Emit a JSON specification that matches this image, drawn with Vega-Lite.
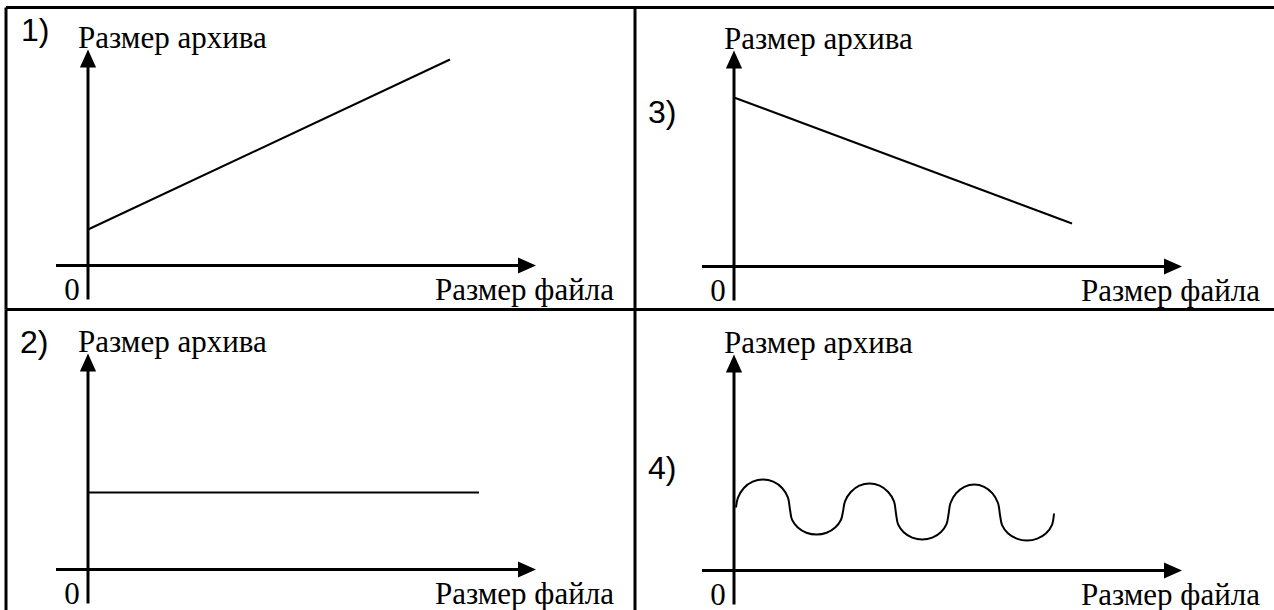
{
  "$schema": "https://vega.github.io/schema/vega-lite/v6.json",
  "padding": {"left": 4, "top": 5.5, "right": 0, "bottom": 0},
  "background": "white",
  "config": {"view": {"stroke": null}, "axis": {"disable": true}},
  "spacing": 0,
  "bounds": "flush",
  "columns": 2,
  "datasets": {
    "axes": [
      {"size": -32, "size2": 439, "archive": 0, "archive2": 0},
      {"size": 0, "size2": 0, "archive": -34, "archive2": 207}
    ],
    "headUp": [{"size": 0, "archive": 207}],
    "headRight": [{"size": 439, "archive": 0}],
    "labels": [
      {"role": "y", "text": "Размер архива", "size": -10, "archive": 218},
      {"role": "x", "text": "Размер файла", "size": 526, "archive": -34},
      {"role": "o", "text": "0", "size": -16, "archive": -34}
    ],
    "numbers": [
      {"panel": 1, "text": "1)", "size": -67, "archive": 225},
      {"panel": 2, "text": "2)", "size": -68, "archive": 217},
      {"panel": 3, "text": "3)", "size": -86, "archive": 144},
      {"panel": 4, "text": "4)", "size": -86, "archive": 92}
    ],
    "curves": [
      {"panel": 1, "i": 0, "size": 0, "archive": 36},
      {"panel": 1, "i": 1, "size": 362, "archive": 206},
      {"panel": 2, "i": 0, "size": 0, "archive": 77},
      {"panel": 2, "i": 1, "size": 391, "archive": 77},
      {"panel": 3, "i": 0, "size": 0, "archive": 169},
      {"panel": 3, "i": 1, "size": 338, "archive": 43},
      {"panel": 4, "i": 0, "size": 2, "archive": 63},
      {"panel": 4, "i": 1, "size": 4.1, "archive": 73.1},
      {"panel": 4, "i": 2, "size": 9.9, "archive": 82.5},
      {"panel": 4, "i": 3, "size": 18.7, "archive": 88.8},
      {"panel": 4, "i": 4, "size": 29, "archive": 91},
      {"panel": 4, "i": 5, "size": 39.3, "archive": 88.8},
      {"panel": 4, "i": 6, "size": 48.1, "archive": 82.5},
      {"panel": 4, "i": 7, "size": 53.9, "archive": 73.1},
      {"panel": 4, "i": 8, "size": 56, "archive": 61},
      {"panel": 4, "i": 9, "size": 58, "archive": 50.8},
      {"panel": 4, "i": 10, "size": 63.8, "archive": 43},
      {"panel": 4, "i": 11, "size": 72.4, "archive": 37.8},
      {"panel": 4, "i": 12, "size": 82.5, "archive": 36},
      {"panel": 4, "i": 13, "size": 92.6, "archive": 37.8},
      {"panel": 4, "i": 14, "size": 101.2, "archive": 43},
      {"panel": 4, "i": 15, "size": 107, "archive": 50.8},
      {"panel": 4, "i": 16, "size": 109, "archive": 59},
      {"panel": 4, "i": 17, "size": 111, "archive": 69.1},
      {"panel": 4, "i": 18, "size": 116.8, "archive": 78.5},
      {"panel": 4, "i": 19, "size": 125.4, "archive": 84.8},
      {"panel": 4, "i": 20, "size": 135.5, "archive": 87},
      {"panel": 4, "i": 21, "size": 145.6, "archive": 84.8},
      {"panel": 4, "i": 22, "size": 154.2, "archive": 78.5},
      {"panel": 4, "i": 23, "size": 160, "archive": 69.1},
      {"panel": 4, "i": 24, "size": 162, "archive": 57},
      {"panel": 4, "i": 25, "size": 164, "archive": 46.4},
      {"panel": 4, "i": 26, "size": 169.7, "archive": 38.3},
      {"panel": 4, "i": 27, "size": 178.2, "archive": 32.9},
      {"panel": 4, "i": 28, "size": 188.3, "archive": 31},
      {"panel": 4, "i": 29, "size": 198.3, "archive": 32.9},
      {"panel": 4, "i": 30, "size": 206.8, "archive": 38.3},
      {"panel": 4, "i": 31, "size": 212.5, "archive": 46.4},
      {"panel": 4, "i": 32, "size": 214.5, "archive": 56},
      {"panel": 4, "i": 33, "size": 216.5, "archive": 67.5},
      {"panel": 4, "i": 34, "size": 222, "archive": 77.2},
      {"panel": 4, "i": 35, "size": 230.4, "archive": 83.7},
      {"panel": 4, "i": 36, "size": 240.3, "archive": 86},
      {"panel": 4, "i": 37, "size": 250.1, "archive": 83.7},
      {"panel": 4, "i": 38, "size": 258.5, "archive": 77.2},
      {"panel": 4, "i": 39, "size": 264, "archive": 67.5},
      {"panel": 4, "i": 40, "size": 266, "archive": 55.5},
      {"panel": 4, "i": 41, "size": 268.1, "archive": 45.4},
      {"panel": 4, "i": 42, "size": 273.9, "archive": 37.3},
      {"panel": 4, "i": 43, "size": 282.7, "archive": 31.9},
      {"panel": 4, "i": 44, "size": 293, "archive": 30},
      {"panel": 4, "i": 45, "size": 303.3, "archive": 31.9},
      {"panel": 4, "i": 46, "size": 312.1, "archive": 37.3},
      {"panel": 4, "i": 47, "size": 317.9, "archive": 45.4},
      {"panel": 4, "i": 48, "size": 320, "archive": 57}
    ]
  },
  "concat": [
    {
      "width": 629, "height": 302,
      "layer": [
        {"data": {"name": "axes"}, "mark": {"type": "rule", "strokeWidth": 3, "color": "black"},
         "encoding": {
           "x": {"field": "size", "type": "quantitative", "scale": {"domain": [-82, 547], "nice": false, "zero": false}, "axis": null},
           "x2": {"field": "size2"},
           "y": {"field": "archive", "type": "quantitative", "scale": {"domain": [-44, 258], "nice": false, "zero": false}, "axis": null},
           "y2": {"field": "archive2"}}},
        {"data": {"name": "headUp"}, "mark": {"type": "point", "shape": "M0,-1L-0.9,1L0.9,1Z", "size": 324, "filled": true, "color": "black", "opacity": 1},
         "encoding": {"x": {"field": "size", "type": "quantitative", "axis": null}, "y": {"field": "archive", "type": "quantitative", "axis": null}}},
        {"data": {"name": "headRight"}, "mark": {"type": "point", "shape": "M1,0L-1,-0.9L-1,0.9Z", "size": 324, "filled": true, "color": "black", "opacity": 1},
         "encoding": {"x": {"field": "size", "type": "quantitative", "axis": null}, "y": {"field": "archive", "type": "quantitative", "axis": null}}},
        {"data": {"name": "curves"}, "transform": [{"filter": "datum.panel == 1"}],
         "mark": {"type": "line", "color": "black", "strokeWidth": 2, "interpolate": "catmull-rom"},
         "encoding": {"x": {"field": "size", "type": "quantitative", "axis": null}, "y": {"field": "archive", "type": "quantitative", "axis": null}, "order": {"field": "i", "type": "quantitative"}}},
        {"data": {"name": "labels"}, "transform": [{"filter": "datum.role == 'y'"}],
         "mark": {"type": "text", "font": "Liberation Serif, Times New Roman, DejaVu Serif, serif", "fontSize": 31, "align": "left", "baseline": "alphabetic", "color": "black"},
         "encoding": {"x": {"field": "size", "type": "quantitative", "axis": null}, "y": {"field": "archive", "type": "quantitative", "axis": null}, "text": {"field": "text"}}},
        {"data": {"name": "labels"}, "transform": [{"filter": "datum.role == 'x'"}],
         "mark": {"type": "text", "font": "Liberation Serif, Times New Roman, DejaVu Serif, serif", "fontSize": 31, "align": "right", "baseline": "alphabetic", "color": "black"},
         "encoding": {"x": {"field": "size", "type": "quantitative", "axis": null}, "y": {"field": "archive", "type": "quantitative", "axis": null}, "text": {"field": "text"}}},
        {"data": {"name": "labels"}, "transform": [{"filter": "datum.role == 'o'"}],
         "mark": {"type": "text", "font": "Liberation Serif, Times New Roman, DejaVu Serif, serif", "fontSize": 31, "align": "center", "baseline": "alphabetic", "color": "black"},
         "encoding": {"x": {"field": "size", "type": "quantitative", "axis": null}, "y": {"field": "archive", "type": "quantitative", "axis": null}, "text": {"field": "text"}}},
        {"data": {"name": "numbers"}, "transform": [{"filter": "datum.panel == 1"}],
         "mark": {"type": "text", "font": "Liberation Sans, Arial, sans-serif", "fontSize": 32, "align": "left", "baseline": "alphabetic", "color": "black"},
         "encoding": {"x": {"field": "size", "type": "quantitative", "axis": null}, "y": {"field": "archive", "type": "quantitative", "axis": null}, "text": {"field": "text"}}},
        {"data": {"values": [{}]}, "mark": {"type": "rule", "strokeWidth": 3, "color": "black"},
         "encoding": {"x": {"datum": -82, "type": "quantitative", "axis": null}}},
        {"data": {"values": [{}]}, "mark": {"type": "rule", "strokeWidth": 3, "color": "black"},
         "encoding": {"x": {"datum": 547, "type": "quantitative", "axis": null}}},
        {"data": {"values": [{}]}, "mark": {"type": "rule", "strokeWidth": 3, "color": "black"},
         "encoding": {"y": {"datum": 258, "type": "quantitative", "axis": null}}}
      ]
    },
    {
      "width": 639, "height": 302,
      "layer": [
        {"data": {"name": "axes"}, "mark": {"type": "rule", "strokeWidth": 3, "color": "black"},
         "encoding": {
           "x": {"field": "size", "type": "quantitative", "scale": {"domain": [-99, 540], "nice": false, "zero": false}, "axis": null},
           "x2": {"field": "size2"},
           "y": {"field": "archive", "type": "quantitative", "scale": {"domain": [-43, 259], "nice": false, "zero": false}, "axis": null},
           "y2": {"field": "archive2"}}},
        {"data": {"name": "headUp"}, "mark": {"type": "point", "shape": "M0,-1L-0.9,1L0.9,1Z", "size": 324, "filled": true, "color": "black", "opacity": 1},
         "encoding": {"x": {"field": "size", "type": "quantitative", "axis": null}, "y": {"field": "archive", "type": "quantitative", "axis": null}}},
        {"data": {"name": "headRight"}, "mark": {"type": "point", "shape": "M1,0L-1,-0.9L-1,0.9Z", "size": 324, "filled": true, "color": "black", "opacity": 1},
         "encoding": {"x": {"field": "size", "type": "quantitative", "axis": null}, "y": {"field": "archive", "type": "quantitative", "axis": null}}},
        {"data": {"name": "curves"}, "transform": [{"filter": "datum.panel == 3"}],
         "mark": {"type": "line", "color": "black", "strokeWidth": 2, "interpolate": "catmull-rom"},
         "encoding": {"x": {"field": "size", "type": "quantitative", "axis": null}, "y": {"field": "archive", "type": "quantitative", "axis": null}, "order": {"field": "i", "type": "quantitative"}}},
        {"data": {"name": "labels"}, "transform": [{"filter": "datum.role == 'y'"}],
         "mark": {"type": "text", "font": "Liberation Serif, Times New Roman, DejaVu Serif, serif", "fontSize": 31, "align": "left", "baseline": "alphabetic", "color": "black"},
         "encoding": {"x": {"field": "size", "type": "quantitative", "axis": null}, "y": {"field": "archive", "type": "quantitative", "axis": null}, "text": {"field": "text"}}},
        {"data": {"name": "labels"}, "transform": [{"filter": "datum.role == 'x'"}],
         "mark": {"type": "text", "font": "Liberation Serif, Times New Roman, DejaVu Serif, serif", "fontSize": 31, "align": "right", "baseline": "alphabetic", "color": "black"},
         "encoding": {"x": {"field": "size", "type": "quantitative", "axis": null}, "y": {"field": "archive", "type": "quantitative", "axis": null}, "text": {"field": "text"}}},
        {"data": {"name": "labels"}, "transform": [{"filter": "datum.role == 'o'"}],
         "mark": {"type": "text", "font": "Liberation Serif, Times New Roman, DejaVu Serif, serif", "fontSize": 31, "align": "center", "baseline": "alphabetic", "color": "black"},
         "encoding": {"x": {"field": "size", "type": "quantitative", "axis": null}, "y": {"field": "archive", "type": "quantitative", "axis": null}, "text": {"field": "text"}}},
        {"data": {"name": "numbers"}, "transform": [{"filter": "datum.panel == 3"}],
         "mark": {"type": "text", "font": "Liberation Sans, Arial, sans-serif", "fontSize": 32, "align": "left", "baseline": "alphabetic", "color": "black"},
         "encoding": {"x": {"field": "size", "type": "quantitative", "axis": null}, "y": {"field": "archive", "type": "quantitative", "axis": null}, "text": {"field": "text"}}},
        {"data": {"values": [{}]}, "mark": {"type": "rule", "strokeWidth": 3, "color": "black"},
         "encoding": {"y": {"datum": 259, "type": "quantitative", "axis": null}}}
      ]
    },
    {
      "width": 629, "height": 301,
      "layer": [
        {"data": {"name": "axes"}, "mark": {"type": "rule", "strokeWidth": 3, "color": "black"},
         "encoding": {
           "x": {"field": "size", "type": "quantitative", "scale": {"domain": [-82, 547], "nice": false, "zero": false}, "axis": null},
           "x2": {"field": "size2"},
           "y": {"field": "archive", "type": "quantitative", "scale": {"domain": [-41, 260], "nice": false, "zero": false}, "axis": null},
           "y2": {"field": "archive2"}}},
        {"data": {"name": "headUp"}, "mark": {"type": "point", "shape": "M0,-1L-0.9,1L0.9,1Z", "size": 324, "filled": true, "color": "black", "opacity": 1},
         "encoding": {"x": {"field": "size", "type": "quantitative", "axis": null}, "y": {"field": "archive", "type": "quantitative", "axis": null}}},
        {"data": {"name": "headRight"}, "mark": {"type": "point", "shape": "M1,0L-1,-0.9L-1,0.9Z", "size": 324, "filled": true, "color": "black", "opacity": 1},
         "encoding": {"x": {"field": "size", "type": "quantitative", "axis": null}, "y": {"field": "archive", "type": "quantitative", "axis": null}}},
        {"data": {"name": "curves"}, "transform": [{"filter": "datum.panel == 2"}],
         "mark": {"type": "line", "color": "black", "strokeWidth": 2, "interpolate": "catmull-rom"},
         "encoding": {"x": {"field": "size", "type": "quantitative", "axis": null}, "y": {"field": "archive", "type": "quantitative", "axis": null}, "order": {"field": "i", "type": "quantitative"}}},
        {"data": {"name": "labels"}, "transform": [{"filter": "datum.role == 'y'"}],
         "mark": {"type": "text", "font": "Liberation Serif, Times New Roman, DejaVu Serif, serif", "fontSize": 31, "align": "left", "baseline": "alphabetic", "color": "black"},
         "encoding": {"x": {"field": "size", "type": "quantitative", "axis": null}, "y": {"field": "archive", "type": "quantitative", "axis": null}, "text": {"field": "text"}}},
        {"data": {"name": "labels"}, "transform": [{"filter": "datum.role == 'x'"}],
         "mark": {"type": "text", "font": "Liberation Serif, Times New Roman, DejaVu Serif, serif", "fontSize": 31, "align": "right", "baseline": "alphabetic", "color": "black"},
         "encoding": {"x": {"field": "size", "type": "quantitative", "axis": null}, "y": {"field": "archive", "type": "quantitative", "axis": null}, "text": {"field": "text"}}},
        {"data": {"name": "labels"}, "transform": [{"filter": "datum.role == 'o'"}],
         "mark": {"type": "text", "font": "Liberation Serif, Times New Roman, DejaVu Serif, serif", "fontSize": 31, "align": "center", "baseline": "alphabetic", "color": "black"},
         "encoding": {"x": {"field": "size", "type": "quantitative", "axis": null}, "y": {"field": "archive", "type": "quantitative", "axis": null}, "text": {"field": "text"}}},
        {"data": {"name": "numbers"}, "transform": [{"filter": "datum.panel == 2"}],
         "mark": {"type": "text", "font": "Liberation Sans, Arial, sans-serif", "fontSize": 32, "align": "left", "baseline": "alphabetic", "color": "black"},
         "encoding": {"x": {"field": "size", "type": "quantitative", "axis": null}, "y": {"field": "archive", "type": "quantitative", "axis": null}, "text": {"field": "text"}}},
        {"data": {"values": [{}]}, "mark": {"type": "rule", "strokeWidth": 3, "color": "black"},
         "encoding": {"x": {"datum": -82, "type": "quantitative", "axis": null}}},
        {"data": {"values": [{}]}, "mark": {"type": "rule", "strokeWidth": 3, "color": "black"},
         "encoding": {"x": {"datum": 547, "type": "quantitative", "axis": null}}},
        {"data": {"values": [{}]}, "mark": {"type": "rule", "strokeWidth": 3, "color": "black"},
         "encoding": {"y": {"datum": 260, "type": "quantitative", "axis": null}}}
      ]
    },
    {
      "width": 639, "height": 301,
      "layer": [
        {"data": {"name": "axes"}, "mark": {"type": "rule", "strokeWidth": 3, "color": "black"},
         "encoding": {
           "x": {"field": "size", "type": "quantitative", "scale": {"domain": [-99, 540], "nice": false, "zero": false}, "axis": null},
           "x2": {"field": "size2"},
           "y": {"field": "archive", "type": "quantitative", "scale": {"domain": [-40, 261], "nice": false, "zero": false}, "axis": null},
           "y2": {"field": "archive2"}}},
        {"data": {"name": "headUp"}, "mark": {"type": "point", "shape": "M0,-1L-0.9,1L0.9,1Z", "size": 324, "filled": true, "color": "black", "opacity": 1},
         "encoding": {"x": {"field": "size", "type": "quantitative", "axis": null}, "y": {"field": "archive", "type": "quantitative", "axis": null}}},
        {"data": {"name": "headRight"}, "mark": {"type": "point", "shape": "M1,0L-1,-0.9L-1,0.9Z", "size": 324, "filled": true, "color": "black", "opacity": 1},
         "encoding": {"x": {"field": "size", "type": "quantitative", "axis": null}, "y": {"field": "archive", "type": "quantitative", "axis": null}}},
        {"data": {"name": "curves"}, "transform": [{"filter": "datum.panel == 4"}],
         "mark": {"type": "line", "color": "black", "strokeWidth": 2, "interpolate": "catmull-rom"},
         "encoding": {"x": {"field": "size", "type": "quantitative", "axis": null}, "y": {"field": "archive", "type": "quantitative", "axis": null}, "order": {"field": "i", "type": "quantitative"}}},
        {"data": {"name": "labels"}, "transform": [{"filter": "datum.role == 'y'"}],
         "mark": {"type": "text", "font": "Liberation Serif, Times New Roman, DejaVu Serif, serif", "fontSize": 31, "align": "left", "baseline": "alphabetic", "color": "black"},
         "encoding": {"x": {"field": "size", "type": "quantitative", "axis": null}, "y": {"field": "archive", "type": "quantitative", "axis": null}, "text": {"field": "text"}}},
        {"data": {"name": "labels"}, "transform": [{"filter": "datum.role == 'x'"}],
         "mark": {"type": "text", "font": "Liberation Serif, Times New Roman, DejaVu Serif, serif", "fontSize": 31, "align": "right", "baseline": "alphabetic", "color": "black"},
         "encoding": {"x": {"field": "size", "type": "quantitative", "axis": null}, "y": {"field": "archive", "type": "quantitative", "axis": null}, "text": {"field": "text"}}},
        {"data": {"name": "labels"}, "transform": [{"filter": "datum.role == 'o'"}],
         "mark": {"type": "text", "font": "Liberation Serif, Times New Roman, DejaVu Serif, serif", "fontSize": 31, "align": "center", "baseline": "alphabetic", "color": "black"},
         "encoding": {"x": {"field": "size", "type": "quantitative", "axis": null}, "y": {"field": "archive", "type": "quantitative", "axis": null}, "text": {"field": "text"}}},
        {"data": {"name": "numbers"}, "transform": [{"filter": "datum.panel == 4"}],
         "mark": {"type": "text", "font": "Liberation Sans, Arial, sans-serif", "fontSize": 32, "align": "left", "baseline": "alphabetic", "color": "black"},
         "encoding": {"x": {"field": "size", "type": "quantitative", "axis": null}, "y": {"field": "archive", "type": "quantitative", "axis": null}, "text": {"field": "text"}}},
        {"data": {"values": [{}]}, "mark": {"type": "rule", "strokeWidth": 3, "color": "black"},
         "encoding": {"y": {"datum": 261, "type": "quantitative", "axis": null}}}
      ]
    }
  ]
}
